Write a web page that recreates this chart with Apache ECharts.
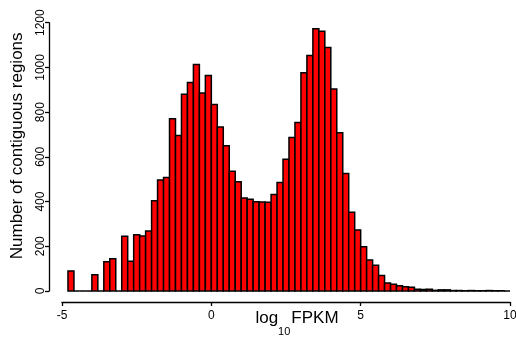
<!DOCTYPE html>
<html>
<head>
<meta charset="utf-8">
<script src="https://cdn.jsdelivr.net/npm/echarts@6/dist/echarts.min.js"></script>
<style>
  html, body { margin: 0; padding: 0; background: #fff; }
  #chart { width: 516px; height: 349px; }
</style>
</head>
<body>
<div id="chart"></div>
<script>
// histogram bin left edges (log10 FPKM), width 0.2
const binLefts = [
  -4.8, -4.6, -4.4, -4.2, -4.0, -3.8, -3.6, -3.4, -3.2, -3.0,
  -2.8, -2.6, -2.4, -2.2, -2.0, -1.8, -1.6, -1.4, -1.2, -1.0,
  -0.8, -0.6, -0.4, -0.2, 0.0, 0.2, 0.4, 0.6, 0.8, 1.0,
  1.2, 1.4, 1.6, 1.8, 2.0, 2.2, 2.4, 2.6, 2.8, 3.0,
  3.2, 3.4, 3.6, 3.8, 4.0, 4.2, 4.4, 4.6, 4.8, 5.0,
  5.2, 5.4, 5.6, 5.8, 6.0, 6.2, 6.4, 6.6, 6.8, 7.0,
  7.2, 7.4, 7.6, 7.8, 8.0, 8.2, 8.4, 8.6, 8.8, 9.0,
  9.2, 9.4, 9.6, 9.8
];
const binWidth = 0.2;

// number of contiguous regions per bin
const counts = [
  90, 0, 0, 0, 73, 0, 131, 144, 0, 245,
  133, 252, 246, 268, 404, 497, 508, 770, 696, 880,
  933, 1013, 886, 964, 834, 733, 650, 536, 489, 416,
  410, 399, 398, 397, 432, 485, 589, 686, 754, 976,
  1053, 1173, 1162, 1089, 903, 708, 526, 352, 273, 198,
  139, 115, 69, 36, 30, 24, 19, 17, 8, 7,
  8, 3, 5, 5, 2, 2, 1, 2, 1, 1,
  2, 1, 1, 0
];

const xTicks = [-5, 0, 5, 10];
const yTicks = [0, 200, 400, 600, 800, 1000, 1200];

const font = "'Liberation Sans', Arial, sans-serif";

const data = binLefts.map((x, i) => [x, x + binWidth, counts[i]]);

const chart = echarts.init(document.getElementById("chart"));

chart.setOption({
  animation: false,
  grid: { left: 62, right: 6, top: 22.7, bottom: 58, containLabel: false, outerBoundsMode: "none" },
  xAxis: {
    type: "value",
    min: xTicks[0],
    max: xTicks[xTicks.length - 1],
    interval: 5,
    offset: 11,
    name: "{a|log}{s|10}{a|FPKM}",
    nameLocation: "middle",
    nameGap: 8,
    nameMoveOverlap: false,
    nameTextStyle: {
      padding: [0, 0, 0, 22],
      rich: {
        a: { fontSize: 17, fontFamily: font, color: "#000" },
        s: { fontSize: 11, fontFamily: font, color: "#000", verticalAlign: "bottom", padding: [0, 1, -10, 0] },
      },
    },
    axisLine: { show: true, onZero: false, lineStyle: { color: "#000", width: 1.3 } },
    axisTick: { show: true, length: 4, lineStyle: { color: "#000", width: 1.3 } },
    axisLabel: { color: "#000", fontSize: 12, fontFamily: font, margin: 8, formatter: (v) => String(v) },
    splitLine: { show: false },
  },
  yAxis: {
    type: "value",
    min: yTicks[0],
    max: yTicks[yTicks.length - 1],
    interval: 200,
    offset: 13,
    name: "Number of contiguous regions",
    nameLocation: "middle",
    nameGap: 23,
    nameMoveOverlap: false,
    nameTextStyle: { fontSize: 17, fontFamily: font, color: "#000", padding: [0, 0, 0, 22] },
    axisLine: { show: true, onZero: false, lineStyle: { color: "#000", width: 1.3 } },
    axisTick: { show: true, length: 4, lineStyle: { color: "#000", width: 1.3 } },
    axisLabel: { color: "#000", fontSize: 12, fontFamily: font, rotate: 90, margin: 2, formatter: (v) => String(v) },
    splitLine: { show: false },
  },
  series: [
    {
      type: "custom",
      data: data,
      encode: { x: [0, 1], y: 2 },
      renderItem: (params, api) => {
        const top = api.coord([api.value(0), api.value(2)]);
        const base = api.coord([api.value(1), 0]);
        return {
          type: "rect",
          shape: { x: top[0], y: top[1], width: base[0] - top[0], height: base[1] - top[1] },
          style: { fill: "#ff0000", stroke: "#000", lineWidth: 1.5 },
        };
      },
    },
  ],
});
</script>
</body>
</html>
